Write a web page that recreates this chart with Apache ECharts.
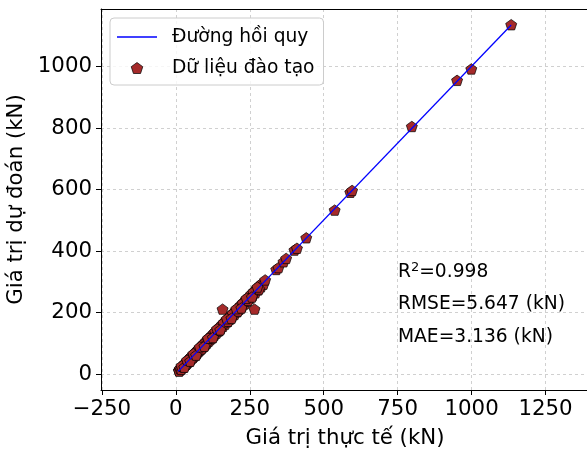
<!DOCTYPE html>
<html>
<head>
<meta charset="utf-8">
<script src="https://cdn.jsdelivr.net/npm/echarts@6/dist/echarts.min.js"></script>
<style>
  html, body { margin: 0; padding: 0; background: #fff; }
  #chart { width: 587px; height: 452px; }
</style>
</head>
<body>
<div id="chart"></div>
<script>
// Measured (actual) and model-predicted capacities, kN
const actualValues = [
  10.5, 12.3, 13.8, 15.1, 16.7, 18.2, 19.9, 21.4, 23.0, 24.6,
  26.3, 27.9, 29.5, 31.2, 33.0, 34.8, 36.5, 38.1, 40.2, 42.0,
  43.9, 45.6, 47.4, 49.8, 51.5, 53.3, 55.9, 58.2, 60.4, 62.7,
  64.9, 67.3, 69.8, 72.1, 74.6, 77.2, 79.5, 82.0, 84.8, 87.3,
  90.1, 92.6, 95.4, 98.2, 101.0, 104.3, 107.5, 110.8, 113.6, 116.9,
  120.4, 123.7, 127.1, 130.5, 134.2, 137.8, 141.0, 144.9, 148.3, 152.0,
  155.7, 158.0, 159.4, 163.2, 167.0, 170.8, 174.9, 178.5, 182.6, 186.3,
  190.4, 194.1, 198.5, 202.7, 206.9, 211.2, 215.4, 219.8, 224.1, 228.6,
  232.9, 237.4, 241.8, 246.0, 250.7, 255.1, 259.8, 264.3, 266.0, 268.9,
  273.5, 278.2, 283.0, 288.1, 291.0, 296.4, 302.0, 339.5, 347.0, 364.0,
  373.0, 401.0, 409.5, 441.0, 537.0, 590.0, 596.0, 798.0, 951.0, 999.0,
  1134.0,
  11.2, 14.5, 17.9, 22.6, 25.8, 30.4, 35.7, 41.3, 46.8, 52.4,
  57.1, 63.5, 70.9, 78.4, 86.2, 93.8, 102.6, 112.0, 121.9, 132.8,
  146.1, 161.5, 176.3, 192.0, 209.4, 226.5, 244.2, 262.1, 281.4,
  19.0, 28.7, 37.9, 48.6, 59.3, 68.4, 81.1, 96.7, 108.9, 125.4,
  139.5, 150.2, 172.7, 188.1, 204.8, 221.6, 239.0, 257.3, 275.9
];
const predictedValues = [
  11.8, 10.9, 16.2, 14.0, 19.5, 17.1, 23.4, 19.8, 25.7, 21.9,
  29.8, 26.1, 33.6, 28.4, 36.1, 31.9, 40.7, 35.2, 44.8, 38.6,
  47.3, 41.9, 52.0, 46.1, 55.8, 49.7, 60.2, 54.5, 65.1, 58.3,
  69.0, 63.2, 74.6, 68.0, 79.3, 72.8, 84.1, 77.9, 89.6, 82.7,
  95.0, 88.1, 100.2, 93.5, 106.3, 99.6, 112.4, 106.0, 118.9, 112.1,
  125.7, 119.0, 132.3, 126.2, 139.0, 133.1, 146.5, 140.2, 153.7, 147.4,
  160.8, 211.0, 155.1, 168.5, 162.3, 175.9, 170.0, 183.6, 177.8, 191.4,
  185.9, 199.3, 193.7, 207.8, 202.0, 216.5, 210.6, 225.1, 219.4, 233.9,
  228.0, 242.8, 236.9, 251.4, 245.8, 260.3, 254.7, 269.5, 211.0, 264.1,
  278.6, 273.4, 288.2, 283.5, 295.0, 292.1, 306.0, 340.0, 346.0, 365.0,
  376.0, 403.0, 409.0, 443.0, 533.0, 591.0, 597.0, 805.0, 955.0, 992.0,
  1136.0,
  9.6, 17.3, 15.2, 26.0, 23.1, 33.9, 32.5, 45.0, 43.2, 56.9,
  53.0, 67.8, 66.4, 82.9, 81.7, 98.5, 98.0, 116.8, 117.2, 137.6,
  141.3, 166.7, 171.5, 196.8, 204.6, 231.3, 239.4, 266.8, 276.5,
  26.4, 22.1, 45.2, 41.7, 66.0, 61.3, 88.0, 90.2, 116.3, 118.7,
  146.9, 143.5, 179.6, 181.0, 212.3, 214.7, 246.1, 250.4, 282.8
];

// Fitted regression line end points
const fitX = [8.0, 1134.0];
const fitY = [8.6, 1135.2];

// Axis tick values
const xTicks = [-250, 0, 250, 500, 750, 1000, 1250];
const yTicks = [0, 200, 400, 600, 800, 1000];

// Fit statistics
const statLines = ['{r|R}{s|2}{r|=0.998}', '{r|RMSE=5.647 (kN)}', '{r|MAE=3.136 (kN)}'];

const seriesNames = ['Đường hồi quy', 'Dữ liệu đào tạo'];
const axisTitles = { x: 'Giá trị thực tế (kN)', y: 'Giá trị dự đoán (kN)' };

const FONT = 'DejaVu Sans';
const PENTAGON = 'path://M50,0 L97.55,34.55 L79.39,90.45 L20.61,90.45 L2.45,34.55 Z';
const LEGEND_LINE = 'path://M0,0 L40,0 L40,1.5 L0,1.5 Z';

const scatterData = actualValues.map((v, i) => [v, predictedValues[i]]);
const fitData = fitX.map((v, i) => [v, fitY[i]]);

const chart = echarts.init(document.getElementById('chart'), null, { renderer: 'canvas' });

const gridLine = { show: true, lineStyle: { color: '#c4c4c4', width: 0.8, type: [3, 3] } };
const spine = { show: true, onZero: false, lineStyle: { color: '#000', width: 1 } };
const plainNumber = v => (v < 0 ? '\u2212' + Math.abs(v) : String(v));

chart.setOption({
  animation: false,
  backgroundColor: '#fff',
  grid: {
    left: 101, top: 9, right: -2, bottom: 62,
    outerBoundsMode: 'none',
    containLabel: false,
    show: false
  },
  xAxis: [
    {
      type: 'value',
      min: -253, max: 1397,
      axisLine: spine,
      axisTick: { show: true, inside: false, length: 5, lineStyle: { color: '#000', width: 1 }, customValues: xTicks },
      axisLabel: { show: true, margin: 9, color: '#000', fontSize: 21.3, fontFamily: FONT, customValues: xTicks,
        formatter: plainNumber },
      splitLine: gridLine,
      name: axisTitles.x,
      nameLocation: 'middle',
      nameGap: 38,
      nameTextStyle: { color: '#000', fontSize: 21.3, fontFamily: FONT }
    },
    {
      // top spine
      type: 'value',
      position: 'top',
      min: -253, max: 1397,
      axisLine: spine,
      axisTick: { show: false },
      axisLabel: { show: false },
      splitLine: { show: false }
    }
  ],
  yAxis: {
    type: 'value',
    min: -52, max: 1187,
    axisLine: spine,
    axisTick: { show: true, inside: false, length: 5, lineStyle: { color: '#000', width: 1 }, customValues: yTicks },
    axisLabel: { show: true, margin: 9, color: '#000', fontSize: 21.3, fontFamily: FONT, customValues: yTicks,
      formatter: plainNumber },
    splitLine: gridLine,
    name: axisTitles.y,
    nameLocation: 'middle',
    nameGap: 70,
    nameTextStyle: { color: '#000', fontSize: 21.3, fontFamily: FONT }
  },
  legend: {
    orient: 'vertical',
    left: 110, top: 18,
    padding: [8, 9, 6, 7],
    itemGap: 9,
    itemWidth: 40,
    itemHeight: 11,
    backgroundColor: 'rgba(255,255,255,0.8)',
    borderColor: '#cccccc',
    borderWidth: 1,
    borderRadius: 4,
    textStyle: { color: '#000', fontSize: 18.67, fontFamily: FONT, lineHeight: 22, padding: [0, 0, 0, 10] },
    data: [
      { name: seriesNames[0], icon: LEGEND_LINE, itemStyle: { color: '#0000ff', borderWidth: 0 } },
      { name: seriesNames[1], icon: PENTAGON, itemStyle: { color: '#a52a2a', borderColor: '#000', borderWidth: 0.7 } }
    ]
  },
  series: [
    {
      name: seriesNames[1],
      type: 'scatter',
      data: scatterData,
      symbol: PENTAGON,
      symbolKeepAspect: true,
      symbolSize: 11,
      itemStyle: { color: '#a52a2a', borderColor: '#000', borderWidth: 0.7, opacity: 1 },
      z: 2
    },
    {
      name: seriesNames[0],
      type: 'line',
      data: fitData,
      showSymbol: false,
      symbol: 'none',
      lineStyle: { color: '#0000ff', width: 1.3 },
      itemStyle: { color: '#0000ff' },
      z: 3
    }
  ],
  graphic: statLines.map((t, i) => ({
    type: 'text',
    x: 398,
    y: 272 + i * 32.5,
    style: {
      text: t, fill: '#000', fontFamily: FONT, verticalAlign: 'middle', align: 'left',
      rich: {
        r: { fontSize: 18.67, fontFamily: FONT, fill: '#000', lineHeight: 22 },
        s: { fontSize: 13, fontFamily: FONT, fill: '#000', lineHeight: 13, verticalAlign: 'top' }
      }
    },
    z: 10
  }))
});
</script>
</body>
</html>
